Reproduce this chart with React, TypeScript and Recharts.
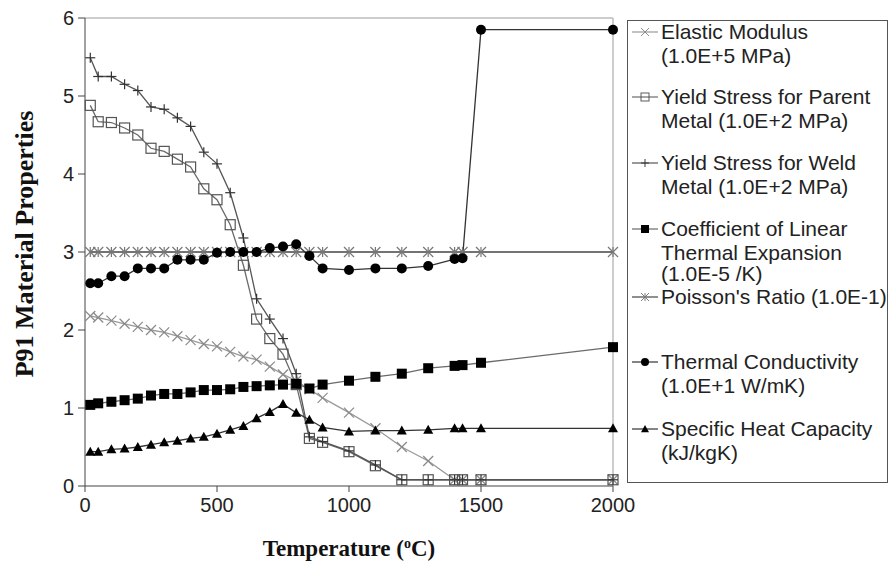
import { LineChart, Line, XAxis, YAxis, ReferenceLine, Legend, Label } from 'recharts';

// temperatures (deg C) shared by every property curve
const temps = [20, 50, 100, 150, 200, 250, 300, 350, 400, 450, 500, 550, 600, 650, 700, 750, 800, 850, 900, 1000, 1100, 1200, 1300, 1400, 1430, 1500, 2000];

const elasticModulus = [2.18, 2.16, 2.12, 2.08, 2.04, 2.0, 1.97, 1.92, 1.87, 1.82, 1.79, 1.72, 1.66, 1.62, 1.53, 1.43, 1.35, 1.24, 1.13, 0.94, 0.74, 0.5, 0.32, 0.08, 0.08, 0.08, 0.08];
const yieldParent = [4.88, 4.67, 4.66, 4.59, 4.5, 4.33, 4.29, 4.19, 4.09, 3.81, 3.67, 3.35, 2.83, 2.14, 1.89, 1.69, 1.3, 0.61, 0.56, 0.44, 0.26, 0.08, 0.08, 0.08, 0.08, 0.08, 0.08];
const yieldWeld = [5.49, 5.25, 5.25, 5.15, 5.07, 4.86, 4.83, 4.72, 4.61, 4.28, 4.13, 3.76, 3.18, 2.4, 2.14, 1.89, 1.44, 0.63, 0.57, 0.45, 0.27, 0.08, 0.08, 0.08, 0.08, 0.08, 0.08];
const thermalExpansion = [1.04, 1.06, 1.08, 1.1, 1.12, 1.16, 1.18, 1.18, 1.2, 1.23, 1.23, 1.24, 1.27, 1.28, 1.29, 1.3, 1.31, 1.25, 1.3, 1.35, 1.4, 1.44, 1.51, 1.54, 1.55, 1.58, 1.78];
const poissonRatio = [3, 3, 3, 3, 3, 3, 3, 3, 3, 3, 3, 3, 3, 3, 3, 3, 3, 3, 3, 3, 3, 3, 3, 3, 3, 3, 3];
const conductivity = [2.6, 2.6, 2.69, 2.69, 2.79, 2.79, 2.79, 2.9, 2.9, 2.9, 2.99, 3.0, 3.0, 3.0, 3.05, 3.07, 3.1, 2.95, 2.79, 2.77, 2.79, 2.79, 2.82, 2.91, 2.92, 5.85, 5.85];
const specificHeat = [0.44, 0.44, 0.47, 0.48, 0.5, 0.53, 0.56, 0.58, 0.61, 0.63, 0.67, 0.72, 0.77, 0.87, 0.95, 1.05, 0.94, 0.85, 0.75, 0.7, 0.71, 0.71, 0.72, 0.74, 0.74, 0.74, 0.74];

const xTicks = [0, 500, 1000, 1500, 2000];
const yTicks = [0, 1, 2, 3, 4, 5, 6];

const rows = temps.map((t, i) => ({
  t,
  elastic: elasticModulus[i],
  parent: yieldParent[i],
  weld: yieldWeld[i],
  cte: thermalExpansion[i],
  poisson: poissonRatio[i],
  cond: conductivity[i],
  cp: specificHeat[i],
}));

type Shape = 'x' | 'square' | 'plus' | 'fsquare' | 'star' | 'circle' | 'triangle';

function Marker({ shape, cx, cy, color }: { shape: Shape; cx: number; cy: number; color: string }) {
  const s = 5;
  switch (shape) {
    case 'x':
      return (
        <g stroke={color} strokeWidth={1.2}>
          <line x1={cx - s} y1={cy - s} x2={cx + s} y2={cy + s} />
          <line x1={cx - s} y1={cy + s} x2={cx + s} y2={cy - s} />
        </g>
      );
    case 'square':
      return <rect x={cx - s} y={cy - s} width={2 * s} height={2 * s} fill="none" stroke={color} strokeWidth={1.2} />;
    case 'plus':
      return (
        <g stroke={color} strokeWidth={1.2}>
          <line x1={cx - s} y1={cy} x2={cx + s} y2={cy} />
          <line x1={cx} y1={cy - s} x2={cx} y2={cy + s} />
        </g>
      );
    case 'fsquare':
      return <rect x={cx - s} y={cy - s} width={2 * s} height={2 * s} fill={color} />;
    case 'star':
      return (
        <g stroke={color} strokeWidth={1.2}>
          <line x1={cx - s} y1={cy - s} x2={cx + s} y2={cy + s} />
          <line x1={cx - s} y1={cy + s} x2={cx + s} y2={cy - s} />
          <line x1={cx} y1={cy - s} x2={cx} y2={cy + s} />
        </g>
      );
    case 'circle':
      return <circle cx={cx} cy={cy} r={s} fill={color} />;
    case 'triangle':
      return <polygon points={`${cx},${cy - s} ${cx + s},${cy + s - 1} ${cx - s},${cy + s - 1}`} fill={color} />;
  }
}

const series: { key: string; shape: Shape; line: string; mark: string; label: string[]; top: number }[] = [
  { key: 'elastic', shape: 'x', line: '#9a9a9a', mark: '#8a8a8a', label: ['Elastic Modulus', '(1.0E+5 MPa)'], top: 20 },
  { key: 'parent', shape: 'square', line: '#6a6a6a', mark: '#555', label: ['Yield Stress for Parent', 'Metal (1.0E+2 MPa)'], top: 85 },
  { key: 'weld', shape: 'plus', line: '#555', mark: '#333', label: ['Yield Stress for Weld', 'Metal (1.0E+2 MPa)'], top: 151 },
  { key: 'cte', shape: 'fsquare', line: '#6a6a6a', mark: '#000', label: ['Coefficient of Linear', 'Thermal Expansion', '(1.0E-5 /K)'], top: 217 },
  { key: 'poisson', shape: 'star', line: '#444', mark: '#777', label: ["Poisson's Ratio (1.0E-1)"], top: 285 },
  { key: 'cond', shape: 'circle', line: '#333', mark: '#000', label: ['Thermal Conductivity', '(1.0E+1 W/mK)'], top: 350 },
  { key: 'cp', shape: 'triangle', line: '#333', mark: '#000', label: ['Specific Heat Capacity', '(kJ/kgK)'], top: 417 },
];

function LegendBox() {
  return (
    <div
      style={{
        position: 'relative',
        width: 261,
        height: 463,
        border: '1.5px solid #555',
        boxSizing: 'border-box',
        background: '#fff',
        fontFamily: '"Liberation Sans", Arial, sans-serif',
        fontSize: 21,
        color: '#222',
      }}
    >
      {series.map((s) => (
        <div key={s.key} style={{ position: 'absolute', left: 2, top: s.top - 21 }}>
          <svg width={30} height={24} style={{ position: 'absolute', left: 0, top: 0 }}>
            <line x1={2} y1={12} x2={28} y2={12} stroke={s.line} strokeWidth={1.2} />
            <g transform="translate(15,12) scale(0.8) translate(-15,-12)">
              <Marker shape={s.shape} cx={15} cy={12} color={s.mark} />
            </g>
          </svg>
          <div style={{ position: 'absolute', left: 31, top: 0, lineHeight: '24px', whiteSpace: 'nowrap' }}>
            {s.label.map((l, i) => (
              <div key={i} style={{ height: s.key === 'cte' && i === 1 ? 21 : 24 }}>{l}</div>
            ))}
          </div>
        </div>
      ))}
    </div>
  );
}

const tickStyle = { fill: '#222', fontSize: 20, fontFamily: '"Liberation Sans", Arial, sans-serif' };

export default function App() {
  return (
    <div style={{ position: 'absolute', left: 0, top: 0, width: 890, height: 567, background: '#fff' }}>
      <LineChart width={890} height={567} data={rows} margin={{ top: 18, right: 277, bottom: 51, left: 0 }}>
        <XAxis
          dataKey="t"
          type="number"
          domain={[0, 2000]}
          ticks={xTicks}
          tick={tickStyle}
          tickSize={6}
          tickMargin={6}
          stroke="#444"
          height={30}
        >
          <Label
            content={({ viewBox }: any) => (
              <text
                x={viewBox.x + viewBox.width / 2}
                y={viewBox.y + 70}
                textAnchor="middle"
                fontFamily='"Liberation Serif", "Times New Roman", serif'
                fontWeight="bold"
                fontSize={23}
                fill="#111"
              >
                Temperature (<tspan dy={-8} fontSize={14}>o</tspan><tspan dy={8}>C)</tspan>
              </text>
            )}
          />
        </XAxis>
        <YAxis
          type="number"
          domain={[0, 6]}
          ticks={yTicks}
          tick={tickStyle}
          tickSize={7}
          tickMargin={4}
          stroke="#444"
          width={85}
        >
          <Label
            content={({ viewBox }: any) => {
              const cx = 33;
              const cy = viewBox.y + viewBox.height / 2 - 8;
              return (
                <text
                  x={cx}
                  y={cy}
                  transform={`rotate(-90 ${cx} ${cy})`}
                  textAnchor="middle"
                  fontFamily='"Liberation Serif", "Times New Roman", serif'
                  fontWeight="bold"
                  fontSize={26}
                  fill="#111"
                >
                  P91 Material Properties
                </text>
              );
            }}
          />
        </YAxis>
        <ReferenceLine y={6} stroke="#bdbdbd" strokeWidth={1.5} />
        <ReferenceLine x={2000} stroke="#bdbdbd" strokeWidth={1.5} />
        {series.map((s) => (
          <Line
            key={s.key}
            dataKey={s.key}
            type="linear"
            stroke={s.line}
            strokeWidth={1.3}
            isAnimationActive={false}
            dot={(p: any) => (
              <g key={`${s.key}-${p.index}`}>
                <Marker shape={s.shape} cx={p.cx} cy={p.cy} color={s.mark} />
              </g>
            )}
            activeDot={false}
          />
        ))}
        <Legend
          layout="vertical"
          align="center"
          verticalAlign="middle"
          wrapperStyle={{ left: 627, top: 20, width: 261, height: 463 }}
          content={() => <LegendBox />}
        />
      </LineChart>
    </div>
  );
}
